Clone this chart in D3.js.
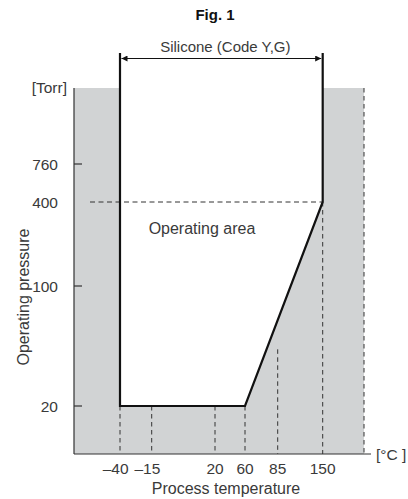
<!DOCTYPE html>
<html>
<head>
<meta charset="utf-8">
<style>
  body { margin: 0; background: #fff; }
  svg { display: block; font-family: "Liberation Sans", Arial, sans-serif; }
  text { fill: #3a3a3a; }
</style>
</head>
<body>
<div id="chart"></div>
<script src="https://d3js.org/d3.v7.min.js"></script>
<script>
'use strict';

// data
var tempTicks = [-40, -15, 20, 60, 85, 150];
var pressureTicks = [20, 100, 400, 760];
var boundaryTemp = [-40, -40, 60, 150, 150];
var boundaryPressure = [null, 20, 20, 400, null];   // null = open top
var dashTemps = [-40, -15, 20, 60, 85, 150];
var tickMarkPressures = [20, 100, 760];
var refPressure = 400;

var W = 408, H = 499;
var pLeft = 74, pRight = 364, pTop = 88, pBottom = 454, lineTop = 53;

// the original axes are not to scale, so both scales are piecewise
var x = d3.scaleLinear()
  .domain(tempTicks)
  .range([120, 151.7, 215, 245, 277.7, 322.7]);
var y = d3.scaleLinear()
  .domain(pressureTicks)
  .range([406, 286, 202, 164]);

var svg = d3.select('#chart').append('svg')
  .attr('width', W).attr('height', H);

svg.append('defs').append('marker')
  .attr('id', 'arr').attr('viewBox', '0 0 10 10')
  .attr('refX', 10).attr('refY', 5)
  .attr('markerWidth', 10).attr('markerHeight', 6)
  .attr('markerUnits', 'userSpaceOnUse')
  .attr('orient', 'auto-start-reverse')
  .append('path').attr('d', 'M0,0L10,5L0,10z').attr('fill', '#111');

// grey out-of-range area
svg.append('rect')
  .attr('x', pLeft).attr('y', pTop)
  .attr('width', pRight - pLeft).attr('height', pBottom - pTop)
  .attr('fill', '#d1d3d4');

function py(p) { return p === null ? lineTop : y(p); }

// white operating area
var pts = boundaryTemp.map(function(t, i) { return [x(t), py(boundaryPressure[i])]; });
svg.append('path')
  .attr('d', d3.line()(pts) + 'Z')
  .attr('fill', '#fff');

// dashed guides
var dash = svg.append('g').attr('stroke', '#333').attr('stroke-width', 1)
  .attr('fill', 'none');
dash.append('line')
  .attr('x1', pLeft + 16).attr('x2', x(150))
  .attr('y1', y(refPressure)).attr('y2', y(refPressure))
  .attr('stroke-dasharray', '5,3.5');

function boundaryY(t) {
  // y of the black boundary at temperature t
  for (var i = 1; i < boundaryTemp.length - 1; i++) {
    var t0 = boundaryTemp[i], t1 = boundaryTemp[i + 1];
    if (t >= t0 && t <= t1 && t1 > t0) {
      var f = (t - t0) / (t1 - t0);
      return py(boundaryPressure[i]) + f * (py(boundaryPressure[i + 1]) - py(boundaryPressure[i]));
    }
  }
  return y(20);
}
dash.selectAll('line.v').data(dashTemps).enter().append('line')
  .attr('class', 'v')
  .attr('x1', function(d) { return x(d); }).attr('x2', function(d) { return x(d); })
  .attr('y1', function(d) { return d === 150 ? y(refPressure) : boundaryY(d); })
  .attr('y2', pBottom)
  .attr('stroke-dasharray', '4.5,3.5');
dash.append('line')
  .attr('x1', pRight).attr('x2', pRight)
  .attr('y1', pTop).attr('y2', pBottom)
  .attr('stroke-dasharray', '4.5,3.5');

// axes
var ax = svg.append('g').attr('stroke', '#333').attr('stroke-width', 1.2);
ax.append('line').attr('x1', pLeft).attr('x2', pLeft).attr('y1', pTop).attr('y2', pBottom);
ax.append('line').attr('x1', pLeft).attr('x2', pRight + 7).attr('y1', pBottom).attr('y2', pBottom);
ax.selectAll('line.t').data(tickMarkPressures).enter().append('line')
  .attr('class', 't')
  .attr('x1', pLeft).attr('x2', pLeft + 8)
  .attr('y1', function(d) { return y(d); }).attr('y2', function(d) { return y(d); });

// black boundary
svg.append('path')
  .attr('d', d3.line()(pts))
  .attr('fill', 'none').attr('stroke', '#111').attr('stroke-width', 2.2)
  .attr('stroke-linejoin', 'miter');

// arrow
svg.append('line')
  .attr('x1', x(-40) + 1.5).attr('x2', x(150) - 1.5)
  .attr('y1', lineTop + 5.5).attr('y2', lineTop + 5.5)
  .attr('stroke', '#111').attr('stroke-width', 1.2)
  .attr('marker-start', 'url(#arr)').attr('marker-end', 'url(#arr)');

// labels
var fs = '16px';
svg.append('text').attr('x', 215).attr('y', 20)
  .attr('text-anchor', 'middle').attr('font-weight', 'bold').attr('font-size', '15px')
  .style('fill', '#111').text('Fig. 1');
svg.append('text').attr('x', (x(-40) + x(150)) / 2 + 4).attr('y', 52)
  .attr('text-anchor', 'middle').attr('font-size', '15px').text('Silicone (Code Y,G)');
svg.append('text').attr('x', 67).attr('y', pTop + 5)
  .attr('text-anchor', 'end').attr('font-size', '15.5px').text('[Torr]');
svg.selectAll('text.yt').data(pressureTicks).enter().append('text')
  .attr('class', 'yt')
  .attr('x', 58).attr('y', function(d) { return y(d) + 5.5; })
  .attr('text-anchor', 'end').attr('font-size', '15.5px').text(function(d) { return d; });
svg.selectAll('text.xt').data(tempTicks).enter().append('text')
  .attr('class', 'xt')
  .attr('x', function(d) { return x(d); }).attr('y', 474)
  .attr('dx', function(d) { return d < 0 ? -4.3 : 0; })
  .attr('text-anchor', 'middle').attr('font-size', '15.5px')
  .text(function(d) { return d < 0 ? '\u2013' + (-d) : d; });
svg.append('text').attr('x', pRight + 12).attr('y', pBottom + 5.5)
  .attr('font-size', '15.5px').text('[\u00b0C ]');
svg.append('text').attr('x', 226).attr('y', 494)
  .attr('text-anchor', 'middle').attr('font-size', fs).text('Process temperature');
svg.append('text')
  .attr('transform', 'translate(29,297) rotate(-90)')
  .attr('text-anchor', 'middle').attr('font-size', fs).text('Operating  pressure');
svg.append('text').attr('x', 202).attr('y', 234)
  .attr('text-anchor', 'middle').attr('font-size', fs).text('Operating area');
</script>
</body>
</html>
